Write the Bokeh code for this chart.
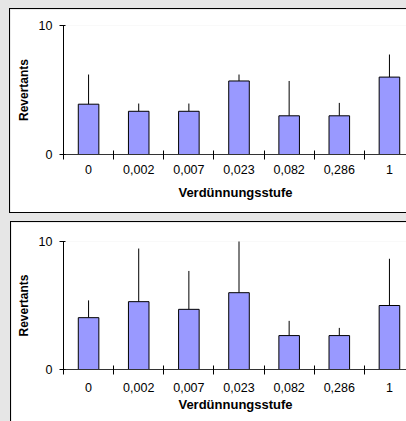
from bokeh.plotting import figure
from bokeh.models import Range1d, FixedTicker, Spacer, ColumnDataSource
from bokeh.layouts import column, row
from bokeh.embed import file_html
from bokeh.resources import INLINE

# ---- data ----
categories = ["0", "0,002", "0,007", "0,023", "0,082", "0,286", "1"]
top_means = [3.9, 3.35, 3.35, 5.7, 3.0, 3.0, 6.0]
top_errors = [2.3, 0.6, 0.6, 0.5, 2.7, 1.0, 1.75]
bottom_means = [4.05, 5.3, 4.7, 6.0, 2.65, 2.65, 5.0]
bottom_errors = [1.35, 4.15, 3.0, 4.1, 1.15, 0.6, 3.65]
y_ticks = [0, 10]
y_label = "Revertants"
x_label = "Verdünnungsstufe"

FONT = "Liberation Sans"
BG = "#e6e6e6"


def make_panel(means, errors, width, height, left, top_border, bottom_border,
               tick_standoff, title_standoff, borders):
    n = len(categories)
    frame_w = width - 1 - left
    p = figure(width=width, height=height, output_backend="svg", toolbar_location=None,
               x_range=Range1d(0, frame_w / 50.0), y_range=Range1d(0, 10),
               min_border_left=left, min_border_right=0,
               min_border_top=top_border, min_border_bottom=bottom_border,
               background_fill_color="white", border_fill_color="white",
               outline_line_color=None, styles=borders)
    xs = [i + 0.5 for i in range(n)]
    tops = [m + e for m, e in zip(means, errors)]
    src = ColumnDataSource(dict(x=xs, m=means, t=tops))
    p.segment(x0="x", y0="m", x1="x", y1="t", source=src, line_color="black", line_width=1)
    p.vbar(x="x", top="m", bottom=0, width=0.41, source=src,
           fill_color="#9999ff", line_color="black", line_width=1)

    # x axis: labels at centres, tick marks between categories
    p.xaxis.ticker = FixedTicker(ticks=xs, minor_ticks=list(range(n + 1)))
    p.xaxis.major_label_overrides = {x: c for x, c in zip(xs, categories)}
    p.xaxis.major_tick_line_color = None
    p.xaxis.minor_tick_line_color = "black"
    p.xaxis.minor_tick_in = 4
    p.xaxis.minor_tick_out = 5
    p.xaxis.axis_line_color = "#333333"
    p.xaxis.major_label_standoff = tick_standoff
    p.xaxis.major_label_text_font = FONT
    p.xaxis.major_label_text_font_size = "12.5px"
    p.xaxis.major_label_text_color = "black"
    p.xaxis.axis_label = x_label
    p.xaxis.axis_label_standoff = title_standoff
    p.xaxis.axis_label_text_font = FONT
    p.xaxis.axis_label_text_font_size = "13px"
    p.xaxis.axis_label_text_font_style = "bold"
    p.xaxis.axis_label_text_color = "black"

    # y axis
    p.yaxis.ticker = FixedTicker(ticks=y_ticks, minor_ticks=[])
    p.yaxis.major_tick_in = 2
    p.yaxis.major_tick_out = 4
    p.yaxis.major_tick_line_color = "black"
    p.yaxis.axis_line_color = "black"
    p.yaxis.major_label_standoff = 7
    p.yaxis.major_label_text_font = FONT
    p.yaxis.major_label_text_font_size = "12.5px"
    p.yaxis.major_label_text_color = "black"
    p.yaxis.axis_label = y_label
    p.yaxis.axis_label_text_font = FONT
    p.yaxis.axis_label_text_font_size = "12px"
    p.yaxis.axis_label_text_font_style = "bold"
    p.yaxis.axis_label_text_color = "black"
    p.yaxis.axis_label_standoff = 5

    p.xgrid.grid_line_color = None
    p.ygrid.ticker = FixedTicker(ticks=[y_ticks[-1]], minor_ticks=[])
    p.ygrid.grid_line_color = "#808080"
    p.ygrid.grid_line_width = 2
    return p


p1 = make_panel(top_means, top_errors, 397, 205, 53, 16, 60, 4, 8,
                {"border-top": "1px solid black", "border-left": "1px solid black",
                 "border-bottom": "1px solid black"})
p2 = make_panel(bottom_means, bottom_errors, 396, 200, 52, 19, 53, 7, 2,
                {"border-top": "1px solid black", "border-left": "1px solid black"})

def sp(w, h):
    return Spacer(width=w, height=h, styles={"background-color": BG})

layout = column(
    sp(406, 8),
    row(sp(9, 205), p1, spacing=0),
    sp(406, 8),
    row(sp(10, 200), p2, spacing=0),
    spacing=0, styles={"background-color": BG},
)

open("out.html", "w").write(file_html(layout, INLINE))
